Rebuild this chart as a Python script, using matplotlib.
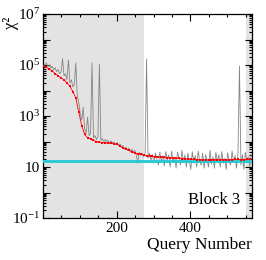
import numpy as np
import matplotlib
matplotlib.use("Agg")
import matplotlib.pyplot as plt
from matplotlib.ticker import FixedLocator, MultipleLocator, LogLocator, FuncFormatter, NullFormatter

plt.rcParams['font.family'] = ['Liberation Serif', 'DejaVu Serif']
plt.rcParams['mathtext.fontset'] = 'custom'
plt.rcParams['mathtext.rm'] = 'Liberation Serif'
plt.rcParams['mathtext.it'] = 'Liberation Serif:italic'

# chi2 per query (every 4th query)
query_step = 4
chi2_raw = [
    1.1e5, 9.5e4, 1.2e5, 8.5e4, 1.0e5, 7.5e4, 9.0e4, 6.5e4, 7.8e4, 5.5e4,
    6.8e4, 4.6e4, 5.2e4, 1.8e5, 3.8e4, 4.5e4, 2.6e4, 1.6e5, 2.0e4, 2.6e4,
    1.4e4, 1.7e4, 1.2e5, 6.0e3, 3.5e3, 1.2e3, 700, 2.2e3, 300, 220,
    900, 170, 200, 1.2e5, 140, 170, 120, 150, 1.1e5, 110,
    130, 95, 120, 100, 110, 85, 105, 90, 95, 75,
    90, 70, 80, 60, 70, 52, 60, 45, 55, 40,
    50, 38, 45, 30, 14, 38, 28, 35, 25, 33,
    1.7e5, 22, 35, 18, 30, 14, 35, 20, 12, 38,
    16, 28, 11, 40, 18, 30, 10, 42, 15, 25,
    9, 38, 22, 12, 45, 15, 30, 10, 35, 18,
    8, 40, 14, 28, 10, 42, 17, 12, 35, 9,
    30, 20, 10, 45, 13, 25, 9, 38, 16, 30,
    10, 40, 14, 22, 8, 36, 18, 12, 42, 15,
    28, 9, 35, 9.1e4, 12, 30, 8, 38, 15, 25,
    10, 30,
]

# smoothed chi2 (every 8th query)
smooth_step = 8
chi2_smooth = [
    8.9e4, 8.1e4, 6.9e4, 5.8e4, 4.6e4, 3.8e4, 3.1e4, 2.6e4, 2.0e4, 1.45e4,
    9.1e3, 5.1e3, 1.4e3, 420, 190, 140, 126, 110, 100, 93,
    91, 89, 87, 85, 81, 78, 66, 55, 49, 45,
    40, 36, 33, 32, 30, 28, 27, 26, 25.7, 25,
    24.5, 24, 23.4, 23, 22.4, 21.9, 21.9, 21.4, 20.9, 20.4,
    20, 20, 19.5, 19.5, 19, 19, 19, 19, 19.5, 19,
    19.5, 19, 19, 19.5, 19.5, 20, 20, 19.5, 19.5, 20,
    20,
]

threshold = 17.5
shaded_blocks = [(0, 275), (551, 567)]
n_queries = 567

q_raw = np.arange(1, 1 + query_step * len(chi2_raw), query_step)
q_smooth = np.arange(1, 1 + smooth_step * len(chi2_smooth), smooth_step)

fig = plt.figure(figsize=(2.66, 2.60), dpi=100)
ax = fig.add_axes([43 / 266, 42 / 260, 209 / 266, 204 / 260])

for lo, hi in shaded_blocks:
    ax.axvspan(lo, hi, color='#e3e3e3', lw=0, zorder=0)

ax.plot(q_raw, chi2_raw, color='#858585', lw=0.6, zorder=2)
ax.axhline(threshold, color='#22c8d2', lw=2.0, zorder=3)
ax.plot(q_smooth, chi2_smooth, color='red', lw=0.6, marker='s', ms=1.5,
        mew=0, zorder=4)

ax.set_yscale('log')
ax.set_ylim(1e-1, 1e7)
ax.set_xlim(0, n_queries)

ax.xaxis.set_major_locator(FixedLocator([200, 400]))
ax.xaxis.set_minor_locator(MultipleLocator(50))
ax.yaxis.set_major_locator(LogLocator(base=10, numticks=20))
ax.yaxis.set_minor_locator(LogLocator(base=10, subs=np.arange(2, 10), numticks=20))
ax.yaxis.set_minor_formatter(NullFormatter())


def ylab(v, pos):
    n = int(round(np.log10(v)))
    if n % 2 == 0:
        return ''
    if n == 1:
        return '10'
    return r'$10^{%d}$' % n


ax.yaxis.set_major_formatter(FuncFormatter(ylab))

ax.tick_params(which='both', direction='in', top=True, right=True,
               labelsize=11, width=0.8)
ax.tick_params(which='major', length=5)
ax.tick_params(which='minor', length=2.5)
ax.tick_params(axis='y', pad=2)
ax.tick_params(axis='x', pad=3)

for s in ax.spines.values():
    s.set_linewidth(0.9)

ax.set_xlabel('Query Number', loc='right', fontsize=12.5, labelpad=1)
ax.set_ylabel('χ²', loc='top', fontsize=12)
ax.yaxis.set_label_coords(-0.115, 0.985)

ax.text(0.945, 0.05, 'Block 3', transform=ax.transAxes, ha='right',
        va='bottom', fontsize=12)

fig.savefig('out.png', dpi=100)
